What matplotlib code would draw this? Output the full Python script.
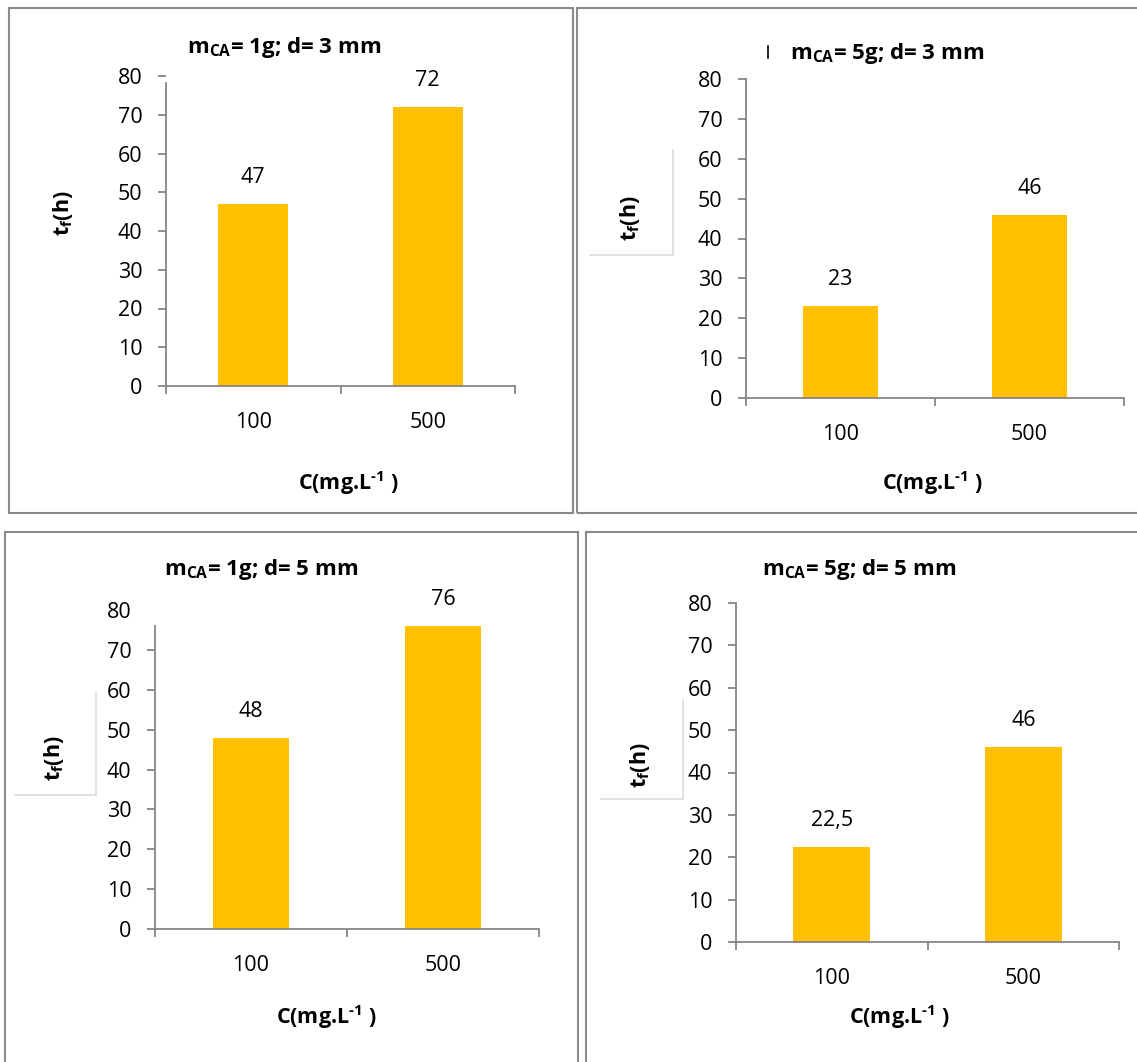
import matplotlib
matplotlib.use("Agg")
import matplotlib.pyplot as plt
from matplotlib.patches import Rectangle
from matplotlib.lines import Line2D
from matplotlib.ticker import FixedLocator

plt.rcParams["font.family"] = ["Open Sans", "DejaVu Sans"]
plt.rcParams["mathtext.fontset"] = "custom"
plt.rcParams["mathtext.rm"] = "Open Sans:bold"
plt.rcParams["mathtext.bf"] = "Open Sans:bold"
plt.rcParams["mathtext.it"] = "Open Sans:italic"

# Data: time to breakthrough t_f (h) versus initial concentration
concentrations = ["100", "500"]
tf_m1_d3 = [47, 72]
tf_m5_d3 = [23, 46]
tf_m1_d5 = [48, 76]
tf_m5_d5 = [22.5, 46]
titles = [r"$\mathbf{m_{CA}}$= 1g; d= 3 mm", r"$\mathbf{m_{CA}}$= 5g; d= 3 mm",
          r"$\mathbf{m_{CA}}$= 1g; d= 5 mm", r"$\mathbf{m_{CA}}$= 5g; d= 5 mm"]
y_ticks = [0, 10, 20, 30, 40, 50, 60, 70, 80]
x_title = r"C(mg.L$^{\text{-1}}$ )"
y_title = r"$\mathbf{t_f(h)}$"

W, H = 1137, 1062
fig = plt.figure(figsize=(W / 100, H / 100), dpi=100)

BAR = "#FFC000"
AXIS = "#868686"
FRAME = "#8a8a8a"
BOXGRAY = "#dcdcdc"
TICK_FS = 15.5


def fx(x):
    return x / W


def fy(y):
    return 1 - y / H


def frame(x0, y0, x1, y1):
    fig.add_artist(Rectangle((fx(x0), fy(y1)), fx(x1) - fx(x0), fy(y0) - fy(y1),
                             transform=fig.transFigure, fill=False,
                             edgecolor=FRAME, lw=1.5))


def fline(xs, ys, color, lw=1.0):
    fig.add_artist(Line2D([fx(x) for x in xs], [fy(y) for y in ys],
                          transform=fig.transFigure, color=color, lw=lw))


def panel(box, values, title, title_xy, xlabel_xy, ylabel_xy,
          spine_top=80, top_tick=True, ybox=None):
    x0, ytop, x1, ybot = box
    ax = fig.add_axes([fx(x0), fy(ybot), fx(x1) - fx(x0), fy(ytop) - fy(ybot)])
    pos = list(range(len(concentrations)))
    bars = ax.bar(pos, values, width=0.4, color=BAR, zorder=2)
    ax.set_xlim(-0.5, len(concentrations) - 0.5)
    ax.set_ylim(0, 80)
    ax.set_facecolor("none")

    for s in ("top", "right"):
        ax.spines[s].set_visible(False)
    for s in ("left", "bottom"):
        ax.spines[s].set_color(AXIS)
        ax.spines[s].set_linewidth(1.3)
    ax.spines["left"].set_bounds(0, spine_top)

    ax.set_yticks(y_ticks)
    ax.set_yticklabels([str(v) for v in y_ticks])
    ax.tick_params(axis="y", direction="out", length=6, width=1.3, color=AXIS,
                   pad=11, labelsize=TICK_FS)
    if not top_tick:
        ax.yaxis.get_major_ticks()[-1].tick1line.set_visible(False)

    ax.set_xticks(pos)
    ax.set_xticklabels(concentrations)
    ax.xaxis.set_minor_locator(FixedLocator([p - 0.5 for p in pos] + [pos[-1] + 0.5]))
    ax.tick_params(axis="x", which="major", length=0, pad=19, labelsize=TICK_FS)
    ax.tick_params(axis="x", which="minor", direction="out", length=6,
                   width=1.3, color=AXIS)

    for b, v in zip(bars, values):
        txt = f"{v:g}".replace(".", ",")
        ax.annotate(txt, (b.get_x() + b.get_width() / 2, v),
                    xytext=(0, 19), textcoords="offset points",
                    ha="center", va="center", fontsize=TICK_FS)

    fig.text(fx(title_xy[0]), fy(title_xy[1]), title, ha="center", va="center",
             fontsize=16, fontweight="bold")
    fig.text(fx(xlabel_xy[0]), fy(xlabel_xy[1]), x_title,
             ha="center", va="center", fontsize=15.5, fontweight="bold")
    fig.text(fx(ylabel_xy[0]), fy(ylabel_xy[1]), y_title,
             ha="center", va="center", rotation=90, fontsize=15.5)
    if ybox is not None:
        vx, vy0, vy1, hx0 = ybox
        fline([vx, vx], [vy0, vy1], BOXGRAY, lw=1.2)
        fline([hx0, vx], [vy1, vy1], BOXGRAY, lw=1.2)
    return ax


# Outer frames of the four charts
frame(9, 8, 573, 513)
frame(577, 8, 1145, 513)
frame(5, 532, 578, 1075)
frame(586, 532, 1145, 1075)

panel((166, 76, 515, 386), tf_m1_d3, titles[0], (284, 47), (348, 483), (63, 213),
      spine_top=78.3)
panel((746, 79, 1124, 398), tf_m5_d3, titles[1], (887, 53), (932, 483), (630, 218),
      ybox=(673, 150, 255, 590))
panel((155, 610, 539, 929), tf_m1_d5, titles[2], (261, 570), (326, 1017), (54, 758),
      spine_top=76, top_tick=False, ybox=(95.5, 693, 795, 15))
panel((736, 603, 1119, 942), tf_m5_d5, titles[3], (859, 570), (899, 1017), (640, 765),
      ybox=(683, 700, 799, 601))

# small stray mark to the left of the second title
fline([768, 768], [46, 58], "black", lw=1.2)

fig.savefig("out.png", dpi=100, facecolor="white")
